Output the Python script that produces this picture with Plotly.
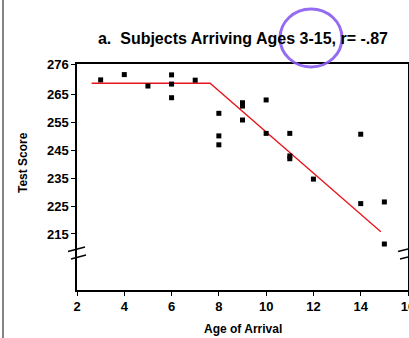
import plotly.graph_objects as go

# Data
age = [3, 4, 5, 6, 6, 6, 7, 8, 8, 8, 9, 9, 9, 10, 10, 11, 11, 11, 12, 14, 14, 15, 15]
score = [270.3, 272.2, 268.1, 272.1, 268.8, 263.9, 270.2, 258.3, 250.2, 247.0,
         262.1, 260.9, 255.9, 263.1, 251.1, 251.1, 243.0, 242.0, 234.7, 250.8,
         225.9, 226.5, 211.4]
fit_x = [2.62, 7.63, 14.85]
fit_y = [269.1, 269.1, 215.8]

x_ticks = [2, 4, 6, 8, 10, 12, 14, 16]
y_ticks = [215, 225, 235, 245, 255, 265, 276]

title_text = "a.  Subjects Arriving Ages 3-15, r= -.87"

FONT = "Liberation Sans, Arial, sans-serif"

W, H = 409, 338
PL, PR, PT, PB = 77, 408, 64, 290          # plot box in window pixels
PW, PH = PR - PL, PB - PT


def px(xw):
    return (xw - PL) / PW


def py(yw):
    return (PB - yw) / PH


fig = go.Figure()
fig.add_trace(go.Scatter(x=fit_x, y=fit_y, mode="lines",
                         line=dict(color="#e8141b", width=1.3), hoverinfo="skip"))
fig.add_trace(go.Scatter(x=age, y=score, mode="markers",
                         marker=dict(symbol="square", size=5, color="black",
                                     line=dict(width=0))))

shapes = []
# axis break marks (left and right)
for (x0, y0, x1, y1) in [(68, 251.5, 85, 247), (71, 259, 86, 255),
                         (398, 251.5, 412, 248), (400, 259, 412, 256)]:
    shapes.append(dict(type="line", xref="paper", yref="paper",
                       x0=px(x0), y0=py(y0), x1=px(x1), y1=py(y1),
                       line=dict(color="black", width=1.5)))
# page left border
shapes.append(dict(type="line", xref="paper", yref="paper",
                   x0=px(3), x1=px(3), y0=py(340), y1=py(0),
                   line=dict(color="#333", width=1.2)))
# purple hand-drawn circle over title
cx, cy, rx, ry = 311, 38, 31, 29
shapes.append(dict(type="circle", xref="paper", yref="paper",
                   x0=px(cx - rx), x1=px(cx + rx),
                   y0=py(cy + ry), y1=py(cy - ry),
                   line=dict(color="rgba(138,92,240,0.9)", width=3)))

annotations = [
    dict(text="<b>Age of Arrival</b>", xref="paper", yref="paper",
         x=px(243), y=py(329), xanchor="center", yanchor="middle",
         showarrow=False, font=dict(size=12, family=FONT, color="black")),
    dict(text="<b>Test Score</b>", xref="paper", yref="paper", textangle=-90,
         x=px(23), y=py(163), xanchor="center", yanchor="middle",
         showarrow=False, font=dict(size=12, family=FONT, color="black")),
]

fig.update_layout(
    width=W, height=H,
    margin=dict(l=PL, r=W - PR, t=PT, b=H - PB, autoexpand=False),
    paper_bgcolor="white", plot_bgcolor="white",
    showlegend=False,
    font=dict(family=FONT, color="black", size=12),
    title=dict(text="<b>" + title_text + "</b>", x=243 / W, xanchor="center",
               y=1 - 38 / H, yanchor="middle",
               font=dict(family=FONT, size=16, color="black")),
    shapes=shapes,
    annotations=annotations,
)
fig.update_xaxes(range=[2, 16], tickvals=x_ticks, automargin=False,
                 ticktext=["<b>%d</b>" % v for v in x_ticks],
                 ticklabeloverflow="allow",
                 showgrid=False, zeroline=False, showline=True, mirror=True,
                 linecolor="black", linewidth=1.5, ticks="outside", ticklen=4,
                 tickcolor="black", tickfont=dict(size=13, family=FONT))
fig.update_yaxes(range=[194.9, 276], tickvals=y_ticks, automargin=False,
                 ticktext=["<b>%d</b>" % v for v in y_ticks],
                 showgrid=False, zeroline=False, showline=True, mirror=True,
                 linecolor="black", linewidth=1.5, ticks="outside", ticklen=4,
                 tickcolor="black", tickfont=dict(size=13, family=FONT))

fig.write_html("out.html", config={"displayModeBar": False},
               post_script="document.body.style.margin='0';document.body.style.overflow='hidden';")
